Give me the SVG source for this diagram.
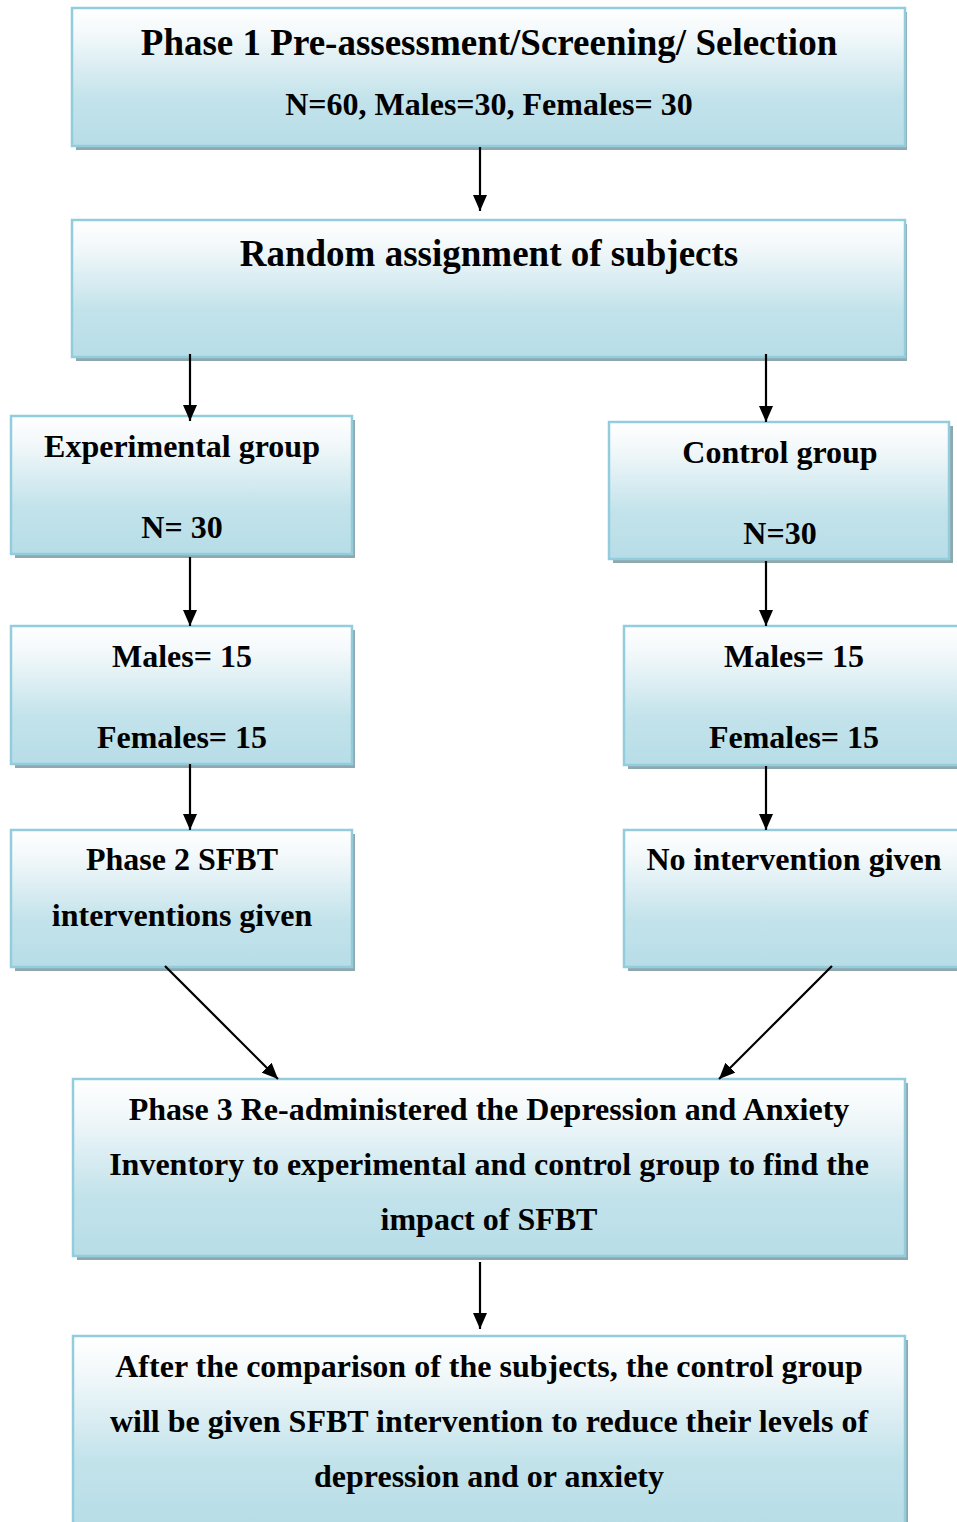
<svg xmlns="http://www.w3.org/2000/svg" width="957" height="1522" viewBox="0 0 957 1522">
<defs>
<linearGradient id="g" x1="0" y1="0" x2="0" y2="1">
<stop offset="0" stop-color="#ffffff"/>
<stop offset="0.2" stop-color="#f2f8fa"/>
<stop offset="0.65" stop-color="#c3e3eb"/>
<stop offset="1" stop-color="#b7dde7"/>
</linearGradient>
<marker id="ah" viewBox="0 0 16 14" refX="16" refY="7" markerWidth="16" markerHeight="14" markerUnits="userSpaceOnUse" orient="auto">
<path d="M0,0 L16,7 L0,14 Z" fill="#000"/>
</marker>
<style>
.sh{fill:#8fa8ae}
.bx{fill:url(#g);stroke:#93cddd;stroke-width:2.5}
text{font-family:"Liberation Serif","Times New Roman",serif;font-weight:bold;fill:#000;text-anchor:middle}
.t37{font-size:37px}
.t32{font-size:32px}
.c line{stroke:#000;stroke-width:2.2;marker-end:url(#ah)}
</style>
</defs>
<rect width="957" height="1522" fill="#fff"/>

<g id="phase1">
<rect class="sh" x="76" y="12" width="831" height="138"/>
<rect class="bx" x="72" y="8" width="833" height="138"/>
<text class="t37" x="489" y="55">Phase 1 Pre-assessment/Screening/ Selection</text>
<text class="t32" x="489" y="115">N=60, Males=30, Females= 30</text>
</g>

<g id="random">
<rect class="sh" x="76" y="224" width="831" height="137"/>
<rect class="bx" x="72" y="220" width="833" height="137"/>
<text class="t37" x="489" y="266">Random assignment of subjects</text>
</g>

<g id="experimental">
<rect class="sh" x="15" y="420" width="340" height="138"/>
<rect class="bx" x="11" y="416" width="341" height="138"/>
<text class="t32" x="182" y="457">Experimental group</text>
<text class="t32" x="182" y="538">N= 30</text>
</g>

<g id="control">
<rect class="sh" x="613" y="426" width="340" height="137"/>
<rect class="bx" x="609" y="422" width="340" height="137"/>
<text class="t32" x="780" y="463">Control group</text>
<text class="t32" x="780" y="544">N=30</text>
</g>

<g id="males-left">
<rect class="sh" x="15" y="630" width="340" height="138"/>
<rect class="bx" x="11" y="626" width="341" height="138"/>
<text class="t32" x="182" y="667">Males= 15</text>
<text class="t32" x="182" y="748">Females= 15</text>
</g>

<g id="males-right">
<rect class="sh" x="628" y="630" width="340" height="139"/>
<rect class="bx" x="624" y="626" width="340" height="139"/>
<text class="t32" x="794" y="667">Males= 15</text>
<text class="t32" x="794" y="748">Females= 15</text>
</g>

<g id="phase2">
<rect class="sh" x="15" y="834" width="340" height="137"/>
<rect class="bx" x="11" y="830" width="341" height="137"/>
<text class="t32" x="182" y="870">Phase 2 SFBT</text>
<text class="t32" x="182" y="926">interventions given</text>
</g>

<g id="no-intervention">
<rect class="sh" x="628" y="834" width="340" height="137"/>
<rect class="bx" x="624" y="830" width="340" height="137"/>
<text class="t32" x="794" y="870">No intervention given</text>
</g>

<g id="phase3">
<rect class="sh" x="77" y="1083" width="831" height="177"/>
<rect class="bx" x="73" y="1079" width="832" height="177"/>
<text class="t32" x="489" y="1120">Phase 3 Re-administered the Depression and Anxiety</text>
<text class="t32" x="489" y="1175">Inventory to experimental and control group to find the</text>
<text class="t32" x="489" y="1230">impact of SFBT</text>
</g>

<g id="after">
<rect class="sh" x="77" y="1340" width="831" height="190"/>
<rect class="bx" x="73" y="1336" width="832" height="190"/>
<text class="t32" x="489" y="1377">After the comparison of the subjects, the control group</text>
<text class="t32" x="489" y="1432">will be given SFBT intervention to reduce their levels of</text>
<text class="t32" x="489" y="1487">depression and or anxiety</text>
</g>

<g id="connectors" class="c">
<line x1="480" y1="147" x2="480" y2="211"/>
<line x1="190" y1="354" x2="190" y2="421"/>
<line x1="766" y1="354" x2="766" y2="422"/>
<line x1="190" y1="557" x2="190" y2="626"/>
<line x1="766" y1="561" x2="766" y2="626"/>
<line x1="190" y1="764" x2="190" y2="830"/>
<line x1="766" y1="766" x2="766" y2="830"/>
<line x1="165" y1="966" x2="278" y2="1079"/>
<line x1="832" y1="966" x2="719" y2="1079"/>
<line x1="480" y1="1262" x2="480" y2="1329"/>
</g>
</svg>
